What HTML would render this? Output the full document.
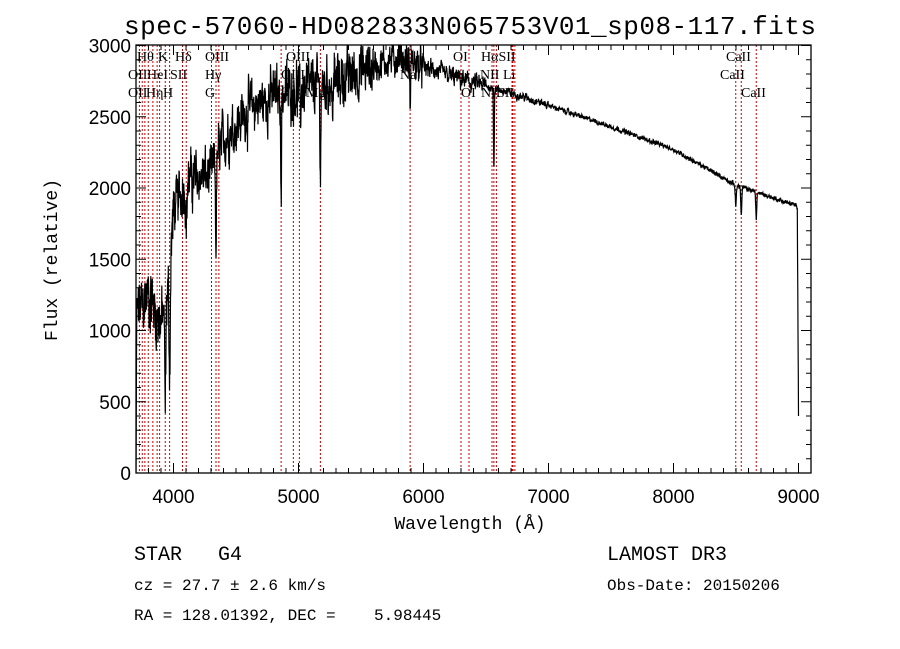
<!DOCTYPE html>
<html><head><meta charset="utf-8">
<style>
html,body{margin:0;padding:0;background:#fff;}
svg{display:block;}
</style></head>
<body>
<svg id="s" width="900" height="649" xmlns="http://www.w3.org/2000/svg">
<defs><clipPath id="cp"><rect x="136" y="45" width="675" height="428"/></clipPath></defs>
<text x="470" y="34" font-family="Liberation Mono, monospace" font-size="26" text-anchor="middle" textLength="692">spec-57060-HD082833N065753V01_sp08-117.fits</text>
<g id="red" clip-path="url(#cp)"></g>
<g id="spec" clip-path="url(#cp)"></g>
<g id="lbl" font-family="Liberation Serif, serif" font-size="14" fill="#000"></g>
<rect x="136" y="45" width="675" height="428" fill="none" stroke="#000" stroke-width="1.3"/>
<g id="ticks" stroke="#000" stroke-width="1"></g>
<g id="tl" font-family="Liberation Sans, sans-serif" font-size="19" fill="#000"></g>
<text transform="translate(57,260) rotate(-90)" font-family="Liberation Mono, monospace" font-size="18" text-anchor="middle">Flux (relative)</text>
<text x="470" y="529" font-family="Liberation Mono, monospace" font-size="18" text-anchor="middle">Wavelength (Å)</text>
<g font-family="Liberation Mono, monospace" fill="#000">
<text x="134" y="560" font-size="20" xml:space="preserve">STAR   G4</text>
<text x="607" y="560" font-size="20">LAMOST DR3</text>
<text x="134" y="590" font-size="16">cz = 27.7 ± 2.6 km/s</text>
<text x="607" y="590" font-size="16">Obs-Date: 20150206</text>
<text x="134" y="620" font-size="16" xml:space="preserve">RA = 128.01392, DEC =    5.98445</text>
</g>
</svg>
<script>
var NS="http://www.w3.org/2000/svg";
function X(w){return 136+(w-3700)*0.125;}
function Y(v){return 473-v*0.1425;}
function el(p,t,a,txt){var e=document.createElementNS(NS,t);for(var k in a)e.setAttribute(k,a[k]);if(txt!=null)e.textContent=txt;document.getElementById(p).appendChild(e);return e;}
[3727,3750,3771,3798,3835,3869,3889,3934,3969,4072,4102,4304,4340,4363,4861,4959,5007,5175,5893,6300,6364,6548,6563,6583,6708,6716,6731,8498,8542,8662].forEach(function(w){
 var x=X(w);el("red","line",{x1:x,x2:x,y1:45,y2:473,stroke:"#c00000","stroke-width":1,"stroke-dasharray":"2,2"});});
[["Hθ",137,57],["K",158,57],["Hδ",175,57],["OIII",205,57],["OIII",286,57],["OI",453,57],["HαSII",481,57],
 ["OII",128,75],["HeI",147,75],["SII",170,75],["Hγ",205,75],["OIII",281,75],["Na",400,75],["NII",480,75],["Li",503,75],
 ["OII",128,93],["Hη",146,93],["H",163,93],["G",205,93],["Hβ",271,93],["Mg",306,93],["OI",461,93],["NII",481,93],["SII",497,93],
 ["CaII",726,57],["CaII",720,75],["CaII",741,93]].forEach(function(l){el("lbl","text",{x:l[1],y:l[2]+4},l[0]);});
for(var w=3700;w<=9100;w+=100){var x=X(w),L=(w%1000==0)?10:5;
 el("ticks","line",{x1:x,x2:x,y1:473,y2:473-L});el("ticks","line",{x1:x,x2:x,y1:45,y2:45+L});}
for(var v=0;v<=3000;v+=100){var y=Y(v),L=(v%500==0)?10:5;
 el("ticks","line",{x1:136,x2:136+L,y1:y,y2:y});el("ticks","line",{x1:811,x2:811-L,y1:y,y2:y});}
for(var w=4000;w<=9000;w+=1000)el("tl","text",{x:X(w),y:503,"text-anchor":"middle"},w);
for(var v=0;v<=3000;v+=500)el("tl","text",{x:131,y:Y(v)+7,"text-anchor":"end"},v);
var cp=[[3700,1100],[3800,1250],[3900,1050],[3960,1300],[4000,1850],[4100,2050],[4300,2100],[4400,2350],[4600,2550],[4800,2650],[5000,2700],[5200,2720],[5500,2820],[5800,2920],[6000,2850],[6300,2760],[6600,2690],[6800,2640],[7000,2580],[7500,2430],[8000,2270],[8500,2020],[9000,1870],[9100,1850]];
function cont(w){for(var i=0;i<cp.length-1;i++){if(w<=cp[i+1][0]){var t=(w-cp[i][0])/(cp[i+1][0]-cp[i][0]);return cp[i][1]+t*(cp[i+1][1]-cp[i][1]);}}return 1850;}
function amp(w){if(w<4000)return 280;if(w<4400)return 220;if(w<5600)return 230;if(w<6000)return 150;if(w<6500)return 80;if(w<7000)return 35;return 20;}
var dips=[[3934,700,5],[3969,650,5],[4102,300,5],[4340,600,4],[4861,750,3],[5175,550,4],[5270,200,4],[5893,350,3],[6563,550,3],[8498,150,4],[8542,200,4],[8662,180,4],[5015,250,3]];
var seed=12345;function rnd(){seed=(seed*1103515245+12345)%2147483648;return seed/2147483648;}
var pts=[],slow=0;
for(var w=3700;w<=9000;w+=2){
 slow=slow*0.6+(rnd()-0.5)*0.8;
 var v=cont(w)+amp(w)*(slow*1.2+(rnd()-0.5)*0.9);
 for(var d=0;d<dips.length;d++){var q=(w-dips[d][0])/dips[d][2];v-=dips[d][1]*Math.exp(-q*q/2);}
 if(w<3706)v=(w-3700)/6*v;
 if(w>8990)v=400+(v-400)*(9000-w)/10;
 pts.push(X(w).toFixed(1)+","+Y(v).toFixed(1));}
el("spec","polyline",{points:pts.join(" "),fill:"none",stroke:"#000","stroke-width":1.2});
</script>
</body></html>
